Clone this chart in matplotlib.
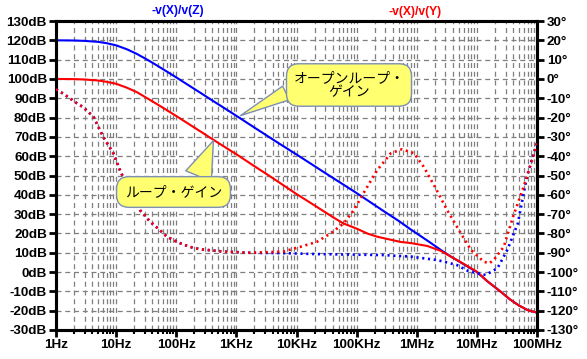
import numpy as np
import matplotlib
matplotlib.use('Agg')
import matplotlib.pyplot as plt
from matplotlib.ticker import LogLocator, NullFormatter

# ---------------- data ----------------
# open loop gain  -v(X)/v(Z)  (dB)
f_ol = [1, 2, 3, 5, 7, 10, 15, 22, 35, 50, 70, 100, 150, 250, 400, 700,
        1e3, 2e3, 5e3, 1e4, 3e4, 1e5, 3e5, 5e5, 8e5, 1.5e6, 2.5e6, 3.7e6,
        6e6, 1e7, 1.5e7, 2.5e7, 3.5e7, 5e7, 7e7, 1e8]
g_ol = [120.0, 119.9, 119.7, 119.2, 118.5, 117.4, 115.4, 113.0, 109.5, 106.6,
        103.8, 100.8, 97.3, 92.9, 88.8, 84.0, 80.9, 74.8, 66.8, 60.9, 51.3,
        40.9, 31.0, 26.5, 22.0, 16.3, 11.5, 8.0, 4.1, 0.0, -4.8, -10.2,
        -14.0, -17.3, -19.7, -21.0]

# loop gain  -v(X)/v(Y)  (dB)
f_lg = [1, 2, 3, 5, 7, 10, 15, 22, 35, 50, 70, 100, 150, 250, 400, 700,
        1e3, 2e3, 3.7e3, 1e4, 2e4, 4e4, 6e4, 1e5, 1.5e5, 2.2e5, 4e5, 5.4e5,
        8e5, 1.5e6, 2.5e6, 3.7e6, 6e6, 1e7, 1.5e7, 2.5e7, 3.5e7, 5e7, 7e7, 1e8]
g_lg = [100.0, 99.9, 99.7, 99.2, 98.5, 97.5, 95.5, 93.2, 89.5, 86.6, 83.8,
        80.8, 77.3, 72.9, 68.8, 64.0, 61.0, 54.8, 49.4, 40.4, 34.5, 28.5,
        25.2, 22.5, 20.0, 18.3, 16.5, 15.6, 15.0, 13.5, 11.0, 8.0, 4.3, 0.2,
        -4.8, -10.2, -14.0, -17.3, -19.7, -21.0]

# loop gain phase (deg)
f_lp = [1, 1.3, 1.7, 2.2, 2.85, 4.2, 6.1, 9, 12, 16, 25, 37, 50, 70, 110,
        170, 250, 610, 1.7e3, 6e3, 1.17e4, 2.2e4, 3.7e4, 6.1e4, 9e4, 1.3e5,
        2.2e5, 3.7e5, 5.7e5, 9e5, 1.3e6, 2e6, 3.2e6, 5.4e6, 8e6, 1.3e7,
        1.6e7, 1.9e7, 2.8e7, 4e7, 6e7, 9e7, 1e8]
p_lp = [-5.4, -7.5, -10.0, -12.5, -14.7, -19.6, -30.0, -38.5, -48.5, -56.0,
        -68.0, -74.0, -77.5, -81.7, -84.8, -87.0, -88.2, -89.4, -90.0, -89.4,
        -86.9, -84.3, -79.9, -74.8, -67.9, -59.2, -47.2, -38.5, -36.4, -38.5,
        -45.4, -55.8, -67.9, -79.9, -88.6, -94.6, -95.5, -93.8, -86.9, -71.3,
        -55.8, -38.5, -33.0]

# open loop phase (deg)
f_op = [1, 1.3, 1.7, 2.2, 2.85, 4.2, 6.1, 9, 12, 16, 25, 37, 50, 70, 110,
        170, 250, 610, 1.7e3, 6e3, 2.2e4, 1e5, 2.8e5, 8e5, 2.2e6, 4.6e6,
        7e6, 1e7, 1.4e7, 2.2e7, 3.2e7, 4.8e7, 6.8e7, 9.5e7, 1e8]
p_op = [-5.4, -7.5, -10.0, -12.5, -14.7, -19.6, -30.0, -38.5, -48.5, -56.0,
        -68.0, -74.0, -77.5, -81.7, -84.8, -87.0, -88.2, -89.4, -90.0, -90.2,
        -90.7, -91.0, -91.2, -92.0, -93.8, -96.3, -99.3, -100.6, -101.5,
        -98.0, -88.6, -74.8, -50.6, -35.0, -33.0]

db_ticks = list(range(-30, 131, 10))
deg_ticks = list(range(-130, 31, 10))
x_ticks = [1, 10, 100, 1e3, 1e4, 1e5, 1e6, 1e7, 1e8]
x_labels = ['1Hz', '10Hz', '100Hz', '1KHz', '10KHz', '100KHz', '1MHz', '10MHz', '100MHz']

# ---------------- figure ----------------
W, H = 587, 359
fig = plt.figure(figsize=(W / 100, H / 100), dpi=100)
L, R, T, B = 56, 537, 21, 330
ax = fig.add_axes([L / W, (H - B) / H, (R - L) / W, (B - T) / H])
ax2 = ax.twinx()

lab_font = dict(family='Liberation Sans', weight='bold', size=9.7)
blue = '#0000ff'
red = '#ff0000'

ax.set_xscale('log')
ax.set_xlim(1, 1e8)
ax.set_ylim(-30, 130)
ax2.set_ylim(-130, 30)

ax.set_xticks(x_ticks)
ax.set_xticklabels(x_labels, fontdict=lab_font)
ax.xaxis.set_minor_locator(LogLocator(base=10, subs=np.arange(2, 10), numticks=20))
ax.xaxis.set_minor_formatter(NullFormatter())
ax.set_yticks(db_ticks)
ax.set_yticklabels([f'{v}dB' for v in db_ticks], fontdict=lab_font)
ax2.set_yticks(deg_ticks)
ax2.set_yticklabels([f'{v}°' for v in deg_ticks], fontdict=lab_font)

grid_kw = dict(color='#7f7f7f', lw=0.9, ls=(0, (4, 3)))
ax.grid(True, which='both', axis='x', **grid_kw)
ax.grid(True, which='major', axis='y', **grid_kw)
ax.set_axisbelow(True)

for a in (ax, ax2):
    for s in a.spines.values():
        s.set_linewidth(2.2)
ax.tick_params(axis='both', which='major', direction='out', length=5, width=2, pad=1.5)
ax.tick_params(axis='x', which='minor', direction='out', length=3, width=1.5)
ax2.tick_params(axis='y', which='major', direction='out', length=5, width=2, pad=2)

# curves
ax.plot(f_ol, g_ol, color=blue, lw=1.5, zorder=3)
ax.plot(f_lg, g_lg, color=red, lw=1.5, zorder=4)
dot = (0, (0.8, 1.4))
ax2.plot(f_op, p_op, color=blue, lw=1.9, ls=dot, zorder=3)
ax2.plot(f_lp, p_lp, color=red, lw=1.9, ls=dot, zorder=4)

# titles
fig.text(178 / W, 1 - 11 / H, '-v(X)/v(Z)', color=blue, ha='center', va='center',
         family='Liberation Sans', weight='bold', size=8.7)
fig.text(415 / W, 1 - 12 / H, '-v(X)/v(Y)', color=red, ha='center', va='center',
         family='Liberation Sans', weight='bold', size=8.7)

# callouts
jp = ['Noto Sans CJK JP', 'DejaVu Sans']
box_fc = '#ffff70'
box_ec = '#7d8fb3'


def axfrac(px, py):
    return ((px - L) / (R - L), (B - py) / (B - T))


ax2.annotate('オープンループ・\nゲイン', xy=(1170, 81 - 100), xycoords='data',
             xytext=axfrac(349, 85), textcoords='axes fraction',
             ha='center', va='center', family=jp, size=10, linespacing=1.05,
             bbox=dict(boxstyle='round,pad=0.5,rounding_size=0.9', fc=box_fc, ec=box_ec, lw=1.0),
             arrowprops=dict(arrowstyle='wedge,tail_width=1.1', fc=box_fc, ec=box_ec, lw=1.0,
                             relpos=(0.0, 0.35), shrinkA=0, shrinkB=0),
             zorder=10)
ax2.annotate('ループ・ゲイン', xy=(414, 68 - 100), xycoords='data',
             xytext=axfrac(173.5, 192), textcoords='axes fraction',
             ha='center', va='center', family=jp, size=10,
             bbox=dict(boxstyle='round,pad=0.6,rounding_size=0.9', fc=box_fc, ec=box_ec, lw=1.0),
             arrowprops=dict(arrowstyle='wedge,tail_width=2.0', fc=box_fc, ec=box_ec, lw=1.0,
                             relpos=(0.72, 1.0), shrinkA=0, shrinkB=0),
             zorder=10)

fig.savefig('out.png', dpi=100)
